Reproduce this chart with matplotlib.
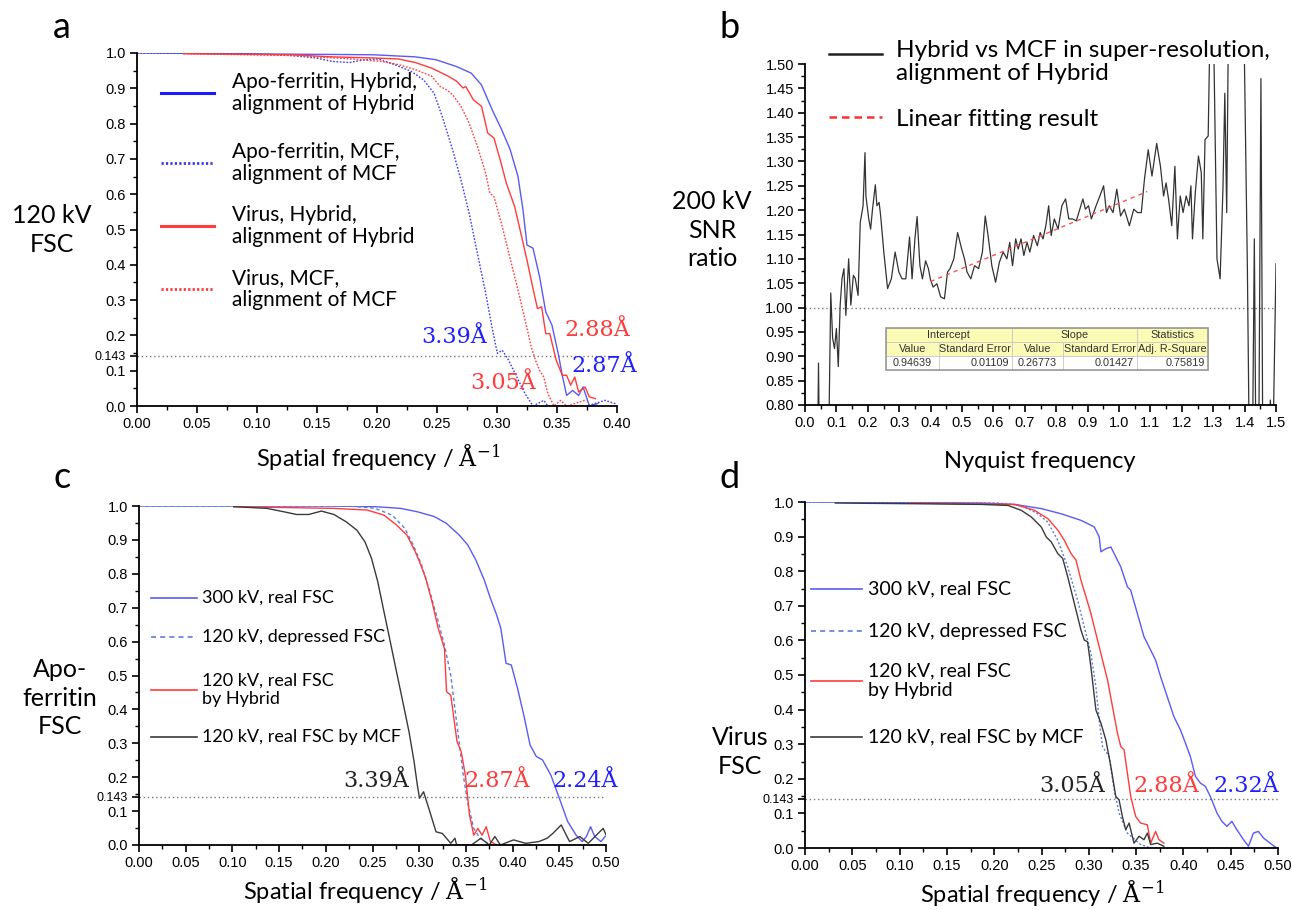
import matplotlib
matplotlib.use("Agg")
import matplotlib.pyplot as plt
from matplotlib.ticker import MultipleLocator, FixedLocator
from matplotlib.lines import Line2D
from matplotlib.patches import Rectangle

plt.rcParams['font.family'] = ['Lato', 'DejaVu Sans']
plt.rcParams['mathtext.fontset'] = 'dejavuserif'

# ---------------- Panel a data (120 kV FSC) ----------------
a_apo_hyb_x = [0, 0.197, 0.232, 0.249, 0.266, 0.2785, 0.287, 0.296, 0.304, 0.311, 0.3175, 0.3217, 0.325,
               0.330, 0.3355, 0.3406, 0.3458, 0.351, 0.3544, 0.358, 0.363, 0.368, 0.3717, 0.377, 0.384]
a_apo_hyb_y = [1.0, 0.995, 0.989, 0.981, 0.962, 0.943, 0.910, 0.839, 0.782, 0.726, 0.650, 0.555, 0.456,
               0.447, 0.366, 0.267, 0.229, 0.149, 0.087, 0.030, 0.044, 0.030, 0.054, 0.0, 0.007]
a_apo_mcf_x = [0, 0.094, 0.128, 0.149, 0.163, 0.177, 0.19, 0.201, 0.2147, 0.2285, 0.2388, 0.2475, 0.2544,
               0.263, 0.27, 0.2768, 0.2837, 0.2906, 0.2958, 0.3003, 0.3044, 0.3096, 0.3165, 0.3234, 0.330,
               0.339, 0.3424, 0.375, 0.39, 0.40]
a_apo_mcf_y = [1.0, 0.998, 0.993, 0.986, 0.976, 0.973, 0.981, 0.983, 0.967, 0.948, 0.924, 0.886, 0.820,
               0.726, 0.640, 0.546, 0.432, 0.319, 0.224, 0.149, 0.158, 0.130, 0.082, 0.035, 0.0,
               0.016, 0.0, 0.0, 0.016, 0.005]
a_vir_hyb_x = [0.0387, 0.128, 0.163, 0.197, 0.218, 0.232, 0.2457, 0.2595, 0.2664, 0.2716, 0.274, 0.2802,
               0.2871, 0.2923, 0.2975, 0.3027, 0.3078, 0.3147, 0.3199, 0.325, 0.3303, 0.3337, 0.3372,
               0.3406, 0.344, 0.3493, 0.3544, 0.358, 0.3614, 0.3648, 0.368, 0.3734, 0.3769, 0.382]
a_vir_hyb_y = [0.998, 0.995, 0.989, 0.986, 0.983, 0.973, 0.957, 0.934, 0.920, 0.901, 0.905, 0.868,
               0.849, 0.773, 0.759, 0.697, 0.631, 0.565, 0.489, 0.413, 0.328, 0.276, 0.281,
               0.205, 0.205, 0.130, 0.087, 0.087, 0.059, 0.082, 0.040, 0.054, 0.026, 0.021]
a_vir_mcf_x = [0.0387, 0.128, 0.18, 0.204, 0.218, 0.232, 0.2457, 0.2526, 0.2578, 0.263, 0.27, 0.2768,
               0.2837, 0.2906, 0.294, 0.2975, 0.3044, 0.3113, 0.3182, 0.3234, 0.3286, 0.332, 0.3355,
               0.339, 0.3424, 0.3475, 0.353, 0.358, 0.365, 0.373]
a_vir_mcf_y = [0.998, 0.993, 0.983, 0.976, 0.967, 0.953, 0.934, 0.905, 0.896, 0.882, 0.849, 0.801,
               0.735, 0.659, 0.603, 0.593, 0.508, 0.413, 0.319, 0.243, 0.167, 0.130, 0.101,
               0.082, 0.035, 0.0, 0.016, 0.0, 0.007, 0.016]
a_labels = ["Apo-ferritin, Hybrid,\nalignment of Hybrid", "Apo-ferritin, MCF,\nalignment of MCF",
            "Virus, Hybrid,\nalignment of Hybrid", "Virus, MCF,\nalignment of MCF"]
a_res_text = ["3.39Å", "2.88Å", "2.87Å", "3.05Å"]
a_res_pos = [(0.264, 0.195), (0.384, 0.215), (0.389, 0.113), (0.305, 0.065)]

# ---------------- Panel b data (200 kV SNR ratio) ----------------
b_x = [0.030, 0.040, 0.043, 0.046, 0.075, 0.082, 0.088, 0.094, 0.100, 0.106, 0.112, 0.118, 0.124, 0.130,
       0.139, 0.146, 0.154, 0.160, 0.169, 0.176, 0.185, 0.191, 0.194, 0.203, 0.209, 0.215, 0.224, 0.229,
       0.236, 0.241, 0.251, 0.263, 0.275, 0.287, 0.299, 0.309, 0.321, 0.333, 0.341, 0.350, 0.357, 0.366,
       0.374, 0.384, 0.393, 0.399, 0.408, 0.420, 0.432, 0.444, 0.454, 0.462, 0.474, 0.486, 0.499, 0.508,
       0.516, 0.528, 0.540, 0.553, 0.565, 0.574, 0.583, 0.595, 0.607, 0.619, 0.631, 0.643, 0.652, 0.661,
       0.671, 0.679, 0.688, 0.697, 0.707, 0.716, 0.728, 0.740, 0.749, 0.758, 0.767, 0.776, 0.784, 0.794,
       0.806, 0.818, 0.830, 0.840, 0.852, 0.864, 0.872, 0.885, 0.893, 0.903, 0.912, 0.927, 0.939, 0.951,
       0.960, 0.969, 0.981, 0.993, 1.005, 1.017, 1.033, 1.047, 1.059, 1.071, 1.081, 1.093, 1.105, 1.120,
       1.132, 1.142, 1.150, 1.158, 1.168, 1.178, 1.186, 1.195, 1.204, 1.214, 1.223, 1.229, 1.234, 1.243,
       1.253, 1.262, 1.267, 1.274, 1.284, 1.291, 1.300, 1.312, 1.322, 1.331, 1.337, 1.343, 1.349, 1.360,
       1.397, 1.409, 1.415, 1.425, 1.431, 1.436, 1.445, 1.452, 1.458, 1.475, 1.482, 1.490, 1.500]
b_y = [0.70, 0.70, 0.886, 0.70, 0.70, 1.030, 0.937, 0.916, 0.957, 0.879, 1.005, 1.060, 1.080, 0.984,
       1.100, 1.005, 1.066, 1.060, 1.025, 1.175, 1.209, 1.318, 1.229, 1.182, 1.161, 1.202, 1.252, 1.209,
       1.216, 1.188, 1.114, 1.039, 1.059, 1.114, 1.073, 1.059, 1.059, 1.145, 1.059, 1.141, 1.187, 1.086,
       1.059, 1.096, 1.080, 1.059, 1.042, 1.049, 1.022, 1.018, 1.073, 1.080, 1.100, 1.154, 1.120, 1.100,
       1.073, 1.059, 1.086, 1.080, 1.114, 1.188, 1.148, 1.086, 1.052, 1.093, 1.114, 1.100, 1.134, 1.086,
       1.141, 1.120, 1.141, 1.107, 1.134, 1.114, 1.148, 1.127, 1.154, 1.141, 1.168, 1.209, 1.148, 1.182,
       1.161, 1.209, 1.223, 1.182, 1.182, 1.178, 1.195, 1.223, 1.202, 1.209, 1.182, 1.209, 1.229, 1.250,
       1.195, 1.209, 1.195, 1.243, 1.188, 1.202, 1.168, 1.202, 1.195, 1.195, 1.263, 1.324, 1.270, 1.337,
       1.290, 1.229, 1.256, 1.222, 1.168, 1.290, 1.141, 1.229, 1.195, 1.229, 1.209, 1.250, 1.141, 1.236,
       1.311, 1.277, 1.141, 1.345, 1.352, 1.620, 1.620, 1.100, 1.059, 1.243, 1.440, 1.195, 1.620, 1.620,
       1.620, 1.073, 0.700, 0.700, 1.141, 0.700, 0.700, 1.470, 0.700, 0.700, 0.810, 0.700, 1.090]
b_fit_range = [0.40, 1.09]
b_intercept = 0.94639
b_slope = 0.26773
b_labels = ["Hybrid vs MCF in super-resolution,\nalignment of Hybrid", "Linear fitting result"]
b_table_head = ["Intercept", "Slope", "Statistics"]
b_table_sub = ["Value", "Standard Error", "Value", "Standard Error", "Adj. R-Square"]
b_table_val = ["0.94639", "0.01109", "0.26773", "0.01427", "0.75819"]

# ---------------- Panel c data (Apo-ferritin FSC) ----------------
c_300_x = [0, 0.2, 0.253, 0.28, 0.298, 0.316, 0.329, 0.343, 0.352, 0.3606, 0.3696, 0.3762, 0.383, 0.3874,
           0.393, 0.3986, 0.4053, 0.412, 0.4187, 0.4254, 0.432, 0.441, 0.45, 0.459, 0.468, 0.4745, 0.479,
           0.4835, 0.4879, 0.4946, 0.499]
c_300_y = [1.0, 1.0, 0.998, 0.993, 0.983, 0.969, 0.949, 0.914, 0.885, 0.841, 0.782, 0.728, 0.678, 0.639,
           0.536, 0.531, 0.462, 0.383, 0.295, 0.261, 0.251, 0.206, 0.138, 0.069, 0.029, 0.010, 0.025,
           0.054, 0.025, 0.010, 0.025]
c_dep_x = [0, 0.2265, 0.253, 0.271, 0.2846, 0.2936, 0.3025, 0.3114, 0.3204, 0.327, 0.3338, 0.3382, 0.3427,
           0.3472, 0.3517, 0.3584, 0.365, 0.3762, 0.5]
c_dep_y = [1.0, 1.0, 0.993, 0.973, 0.934, 0.885, 0.826, 0.747, 0.659, 0.590, 0.501, 0.403, 0.305,
           0.206, 0.128, 0.049, 0.020, 0.0, 0.0]
c_hyb_x = [0.1014, 0.2087, 0.2444, 0.2623, 0.2757, 0.2869, 0.2958, 0.3003, 0.307, 0.3137, 0.3204, 0.327,
           0.3293, 0.3338, 0.3405, 0.345, 0.3494, 0.3539, 0.3584, 0.3628, 0.3673, 0.3718, 0.3762, 0.383]
c_hyb_y = [0.998, 0.993, 0.988, 0.973, 0.944, 0.914, 0.865, 0.836, 0.787, 0.718, 0.639, 0.580,
           0.452, 0.442, 0.305, 0.275, 0.206, 0.088, 0.029, 0.049, 0.029, 0.054, 0.010, 0.0]
c_mcf_x = [0.1014, 0.137, 0.155, 0.1685, 0.1818, 0.1953, 0.2087, 0.222, 0.2332, 0.242, 0.249, 0.2556,
           0.2623, 0.269, 0.2757, 0.2824, 0.2891, 0.2945, 0.298, 0.3003, 0.3047, 0.3114, 0.318, 0.3248,
           0.3338, 0.3383, 0.34, 0.356, 0.366, 0.375, 0.381, 0.387, 0.401, 0.414, 0.428, 0.437, 0.443,
           0.452, 0.461, 0.472, 0.481, 0.49, 0.497, 0.5]
c_mcf_y = [0.998, 0.993, 0.983, 0.975, 0.975, 0.985, 0.975, 0.953, 0.929, 0.894, 0.845, 0.777,
           0.688, 0.600, 0.511, 0.423, 0.334, 0.246, 0.177, 0.138, 0.157, 0.098, 0.039, 0.034,
           0.005, 0.020, 0.0, 0.0, 0.02, 0.0, 0.025, 0.0, 0.015, 0.005, 0.01, 0.02, 0.034,
           0.059, 0.01, 0.025, 0.005, 0.03, 0.049, 0.03]
c_labels = ["300 kV, real FSC", "120 kV, depressed FSC", "120 kV, real FSC\nby Hybrid", "120 kV, real FSC by MCF"]
c_res_text = ["3.39Å", "2.87Å", "2.24Å"]
c_res_pos = [(0.254, 0.19), (0.384, 0.19), (0.478, 0.19)]

# ---------------- Panel d data (Virus FSC) ----------------
d_300_x = [0, 0.1865, 0.2216, 0.2497, 0.2707, 0.2917, 0.3058, 0.311, 0.3128, 0.318, 0.3233, 0.3268,
           0.3338, 0.3408, 0.3443, 0.3513, 0.3583, 0.3654, 0.3706, 0.3759, 0.3829, 0.3899, 0.3969,
           0.4022, 0.4074, 0.4127, 0.418, 0.4232, 0.4285, 0.4355, 0.4407, 0.446, 0.4512, 0.4565,
           0.4635, 0.4688, 0.474, 0.4793, 0.4846, 0.4916, 0.4986]
d_300_y = [1.0, 0.997, 0.993, 0.981, 0.966, 0.947, 0.928, 0.899, 0.856, 0.865, 0.870, 0.851,
           0.8125, 0.755, 0.745, 0.678, 0.611, 0.572, 0.543, 0.495, 0.4375, 0.380, 0.341,
           0.303, 0.264, 0.207, 0.1875, 0.178, 0.149, 0.101, 0.077, 0.0625, 0.077, 0.053,
           0.024, 0.005, 0.043, 0.048, 0.029, 0.014, 0.0]
d_dep_x = [0, 0.204, 0.2286, 0.2461, 0.2567, 0.2672, 0.2777, 0.2882, 0.2952, 0.3022, 0.3075, 0.311,
           0.3145, 0.3215, 0.3268, 0.332, 0.3408, 0.3548, 0.3654, 0.5]
d_dep_y = [1.0, 0.997, 0.990, 0.966, 0.942, 0.889, 0.8125, 0.716, 0.639, 0.5625, 0.466, 0.370,
           0.293, 0.264, 0.168, 0.101, 0.043, 0.010, 0.0, 0.0]
d_hyb_x = [0.1094, 0.2216, 0.2426, 0.2567, 0.2672, 0.2742, 0.2812, 0.2865, 0.2917, 0.297, 0.3022,
           0.3075, 0.3145, 0.3198, 0.325, 0.3303, 0.3338, 0.3373, 0.3408, 0.3443, 0.3496, 0.3548,
           0.3619, 0.3654, 0.3706, 0.3741, 0.3794]
d_hyb_y = [0.997, 0.993, 0.976, 0.952, 0.919, 0.889, 0.851, 0.832, 0.774, 0.726, 0.678,
           0.620, 0.543, 0.486, 0.409, 0.332, 0.293, 0.284, 0.216, 0.149, 0.091, 0.072,
           0.067, 0.014, 0.048, 0.024, 0.014]
d_mcf_x = [0.032, 0.1164, 0.1865, 0.2146, 0.2286, 0.2391, 0.2497, 0.255, 0.2602, 0.2672, 0.2724,
           0.2777, 0.2847, 0.2917, 0.2952, 0.2987, 0.3022, 0.3075, 0.3128, 0.318, 0.3233, 0.3285,
           0.332, 0.3355, 0.339, 0.3426, 0.3478, 0.3531, 0.3583, 0.3619, 0.3654, 0.3724, 0.3794]
d_mcf_y = [0.997, 0.995, 0.993, 0.990, 0.976, 0.957, 0.928, 0.899, 0.885, 0.851, 0.837,
           0.784, 0.707, 0.630, 0.601, 0.596, 0.524, 0.399, 0.361, 0.3125, 0.236, 0.149,
           0.139, 0.091, 0.053, 0.072, 0.014, 0.034, 0.024, 0.043, 0.010, 0.014, 0.005]
d_labels = ["300 kV, real FSC", "120 kV, depressed FSC", "120 kV, real FSC\nby Hybrid", "120 kV, real FSC by MCF"]
d_res_text = ["3.05Å", "2.88Å", "2.32Å"]
d_res_pos = [(0.282, 0.179), (0.382, 0.179), (0.466, 0.179)]

fsc_yticks = [0.0, 0.1, 0.143, 0.2, 0.3, 0.4, 0.5, 0.6, 0.7, 0.8, 0.9, 1.0]
fsc_yticklabels = ["0.0", "0.1", "0.143", "0.2", "0.3", "0.4", "0.5", "0.6", "0.7", "0.8", "0.9", "1.0"]

# ---------------- Figure ----------------
W, H = 1292, 910
fig = plt.figure(figsize=(W / 100, H / 100), dpi=100)


def rect(l, r, t, b):
    return [l / W, 1 - b / H, (r - l) / W, (b - t) / H]


def fx(px):
    return px / W


def fy(py):
    return 1 - py / H


BLUE = '#5a5af5'
BLUE_D = '#3a3af0'
BLUE_DASH = '#5b7fd6'
RED = '#ff3b3b'
BLACK = '#3a3a3a'
TICKFONT = ['Liberation Sans', 'DejaVu Sans']
SERIF = ['DejaVu Serif']
XLABEL = "Spatial frequency / " + r"$\mathrm{\AA}^{-1}$"


def style_axes(ax):
    for s in ['top', 'right']:
        ax.spines[s].set_visible(False)
    for s in ['left', 'bottom']:
        ax.spines[s].set_linewidth(1.3)
    ax.tick_params(which='major', direction='out', length=5, width=1.2, labelsize=10.5, pad=3)
    ax.tick_params(which='minor', direction='out', length=3, width=1.0)
    for lab in ax.get_xticklabels() + ax.get_yticklabels():
        lab.set_family(TICKFONT)


def fsc_axes(ax, xmax, xstep):
    ax.set_xlim(0, xmax)
    ax.set_ylim(0, 1.0)
    ax.xaxis.set_major_locator(MultipleLocator(xstep))
    ax.xaxis.set_minor_locator(MultipleLocator(xstep / 2))
    ax.set_xticklabels([f"{v:.2f}" for v in ax.get_xticks()])
    ax.yaxis.set_major_locator(FixedLocator(fsc_yticks))
    ax.set_yticklabels(fsc_yticklabels)
    ax.yaxis.set_minor_locator(MultipleLocator(0.05))
    ax.axhline(0.143, color='#777777', lw=1.0, ls=(0, (1, 2)), zorder=1)
    style_axes(ax)
    for lab in ax.get_yticklabels():
        if lab.get_text() == "0.143":
            lab.set_fontsize(9)


# ---------- Panel a ----------
axa = fig.add_axes(rect(137, 617, 53, 406))
axa.plot(a_apo_hyb_x, a_apo_hyb_y, color=BLUE, lw=1.0)
axa.plot(a_apo_mcf_x, a_apo_mcf_y, color=BLUE_D, lw=1.0, ls=(0, (1.2, 1.2)))
axa.plot(a_vir_hyb_x, a_vir_hyb_y, color=RED, lw=1.0)
axa.plot(a_vir_mcf_x, a_vir_mcf_y, color=RED, lw=1.0, ls=(0, (1.2, 1.2)))
fsc_axes(axa, 0.40, 0.05)
for txt, (x, y), c in zip(a_res_text, a_res_pos, ['#2020ff', RED, '#2020ff', RED]):
    axa.text(x, y, txt, color=c, fontsize=16, family=SERIF, ha='center', va='center', clip_on=False)

a_leg_y = [93, 163, 226, 289]
a_styles = [dict(color='#1a1aff', lw=2.2), dict(color='#3a3af0', lw=2.0, ls=(0, (0.8, 0.8))),
            dict(color=RED, lw=2.2), dict(color=RED, lw=2.0, ls=(0, (0.8, 0.8)))]
for y, lab, st in zip(a_leg_y, a_labels, a_styles):
    fig.add_artist(Line2D([fx(161), fx(214)], [fy(y), fy(y)], transform=fig.transFigure, **st))
    fig.text(fx(232), fy(y), lab, ha='left', va='center', fontsize=15, linespacing=1.15)

fig.text(fx(62), fy(28), "a", fontsize=26, ha='center', va='center')
fig.text(fx(52), fy(230), "120 kV\nFSC", fontsize=18, ha='center', va='center', linespacing=1.3)
fig.text(fx(378), fy(458), XLABEL, fontsize=17, ha='center', va='center')

# ---------- Panel b ----------
axb = fig.add_axes(rect(805, 1276, 64, 405))
axb.plot(b_x, b_y, color='#333333', lw=0.9)
fit_y = [b_intercept + b_slope * v for v in b_fit_range]
axb.plot(b_fit_range, fit_y, color='#ff5050', lw=1.0, ls=(0, (3, 3)))
axb.axhline(1.0, color='#777777', lw=1.0, ls=(0, (1, 2)), zorder=1)
axb.set_xlim(0, 1.5)
axb.set_ylim(0.80, 1.50)
axb.xaxis.set_major_locator(MultipleLocator(0.1))
axb.xaxis.set_minor_locator(MultipleLocator(0.05))
axb.yaxis.set_major_locator(MultipleLocator(0.05))
axb.yaxis.set_minor_locator(MultipleLocator(0.025))
axb.set_xticklabels([f"{v:.1f}" for v in axb.get_xticks()])
axb.set_yticklabels([f"{v:.2f}" for v in axb.get_yticks()])
style_axes(axb)

# fit table
col_x = [0.257, 0.426, 0.659, 0.822, 1.057, 1.283]
row_y = [0.958, 0.929, 0.900, 0.871]
yellow = '#fbfbb6'
TFS = 7.8
for r in range(3):
    for ci in range(5):
        axb.add_patch(Rectangle((col_x[ci], row_y[r + 1]), col_x[ci + 1] - col_x[ci], row_y[r] - row_y[r + 1],
                                facecolor=yellow if r < 2 else 'white', edgecolor='#c8c8c8', lw=0.6, zorder=3))
for (c0, c1), t in zip([(0, 2), (2, 4), (4, 5)], b_table_head):
    axb.add_patch(Rectangle((col_x[c0], row_y[1]), col_x[c1] - col_x[c0], row_y[0] - row_y[1],
                            facecolor=yellow, edgecolor='#c8c8c8', lw=0.6, zorder=4))
    axb.text((col_x[c0] + col_x[c1]) / 2, (row_y[0] + row_y[1]) / 2, t, ha='center', va='center',
             fontsize=TFS, family=TICKFONT, color='#333333', zorder=5)
for ci, t in enumerate(b_table_sub):
    axb.text((col_x[ci] + col_x[ci + 1]) / 2, (row_y[1] + row_y[2]) / 2, t, ha='center', va='center',
             fontsize=TFS, family=TICKFONT, color='#333333', zorder=5)
for ci, t in enumerate(b_table_val):
    if ci in (0, 2):
        axb.text((col_x[ci] + col_x[ci + 1]) / 2, (row_y[2] + row_y[3]) / 2, t, ha='center', va='center',
                 fontsize=TFS, family=TICKFONT, color='#333333', zorder=5)
    else:
        axb.text(col_x[ci + 1] - 0.01, (row_y[2] + row_y[3]) / 2, t, ha='right', va='center',
                 fontsize=TFS, family=TICKFONT, color='#333333', zorder=5)
axb.add_patch(Rectangle((col_x[0], row_y[3]), col_x[-1] - col_x[0], row_y[0] - row_y[3],
                        facecolor='none', edgecolor='#9a9a9a', lw=1.2, zorder=6))

fig.add_artist(Line2D([fx(829), fx(882)], [fy(54), fy(54)], transform=fig.transFigure, color='#222222', lw=1.8))
fig.text(fx(896), fy(62), b_labels[0], ha='left', va='center', fontsize=17.5, linespacing=1.12)
fig.add_artist(Line2D([fx(829), fx(882)], [fy(117), fy(117)], transform=fig.transFigure, color='#ff3030',
                      lw=1.8, ls=(0, (3, 2))))
fig.text(fx(896), fy(119), b_labels[1], ha='left', va='center', fontsize=17.5)

fig.text(fx(730), fy(28), "b", fontsize=26, ha='center', va='center')
fig.text(fx(712), fy(230), "200 kV\nSNR\nratio", fontsize=18, ha='center', va='center', linespacing=1.3)
fig.text(fx(1040), fy(462), "Nyquist frequency", fontsize=17, ha='center', va='center')

# ---------- Panel c ----------
axc = fig.add_axes(rect(139, 606, 506, 845))
axc.plot(c_300_x, c_300_y, color=BLUE, lw=1.0)
axc.plot(c_dep_x, c_dep_y, color=BLUE_DASH, lw=1.0, ls=(0, (2.5, 2)))
axc.plot(c_hyb_x, c_hyb_y, color=RED, lw=1.0)
axc.plot(c_mcf_x, c_mcf_y, color=BLACK, lw=1.0)
fsc_axes(axc, 0.50, 0.05)
for txt, (x, y), c in zip(c_res_text, c_res_pos, ['#222222', RED, '#2020ff']):
    axc.text(x, y, txt, color=c, fontsize=16, family=SERIF, ha='center', va='center', clip_on=False)

cd_styles = [dict(color=BLUE, lw=1.2), dict(color=BLUE_DASH, lw=1.2, ls=(0, (3, 2.5))),
             dict(color=RED, lw=1.2), dict(color=BLACK, lw=1.2)]
for y, lab, st in zip([598, 637, 690, 737], c_labels, cd_styles):
    fig.add_artist(Line2D([fx(151), fx(197)], [fy(y), fy(y)], transform=fig.transFigure, **st))
    fig.text(fx(202), fy(y), lab, ha='left', va='center', fontsize=13, linespacing=1.2)

fig.text(fx(62), fy(477), "c", fontsize=26, ha='center', va='center')
fig.text(fx(60), fy(698), "Apo-\nferritin\nFSC", fontsize=18, ha='center', va='center', linespacing=1.3)
fig.text(fx(365), fy(891), XLABEL, fontsize=17, ha='center', va='center')

# ---------- Panel d ----------
axd = fig.add_axes(rect(805, 1278, 502, 848))
axd.plot(d_300_x, d_300_y, color=BLUE, lw=1.0)
axd.plot(d_dep_x, d_dep_y, color=BLUE_DASH, lw=1.0, ls=(0, (1.5, 1.5)))
axd.plot(d_hyb_x, d_hyb_y, color=RED, lw=1.0)
axd.plot(d_mcf_x, d_mcf_y, color=BLACK, lw=1.0)
fsc_axes(axd, 0.50, 0.05)
for txt, (x, y), c in zip(d_res_text, d_res_pos, ['#222222', RED, '#2020ff']):
    axd.text(x, y, txt, color=c, fontsize=16, family=SERIF, ha='center', va='center', clip_on=False)

for y, lab, st in zip([589, 631, 681, 737], d_labels, cd_styles):
    fig.add_artist(Line2D([fx(811), fx(862)], [fy(y), fy(y)], transform=fig.transFigure, **st))
    fig.text(fx(868), fy(y), lab, ha='left', va='center', fontsize=14, linespacing=1.2)

fig.text(fx(730), fy(477), "d", fontsize=26, ha='center', va='center')
fig.text(fx(740), fy(752), "Virus\nFSC", fontsize=18, ha='center', va='center', linespacing=1.3)
fig.text(fx(1042), fy(894), XLABEL, fontsize=17, ha='center', va='center')

fig.savefig("out.png", dpi=100, facecolor='white')
